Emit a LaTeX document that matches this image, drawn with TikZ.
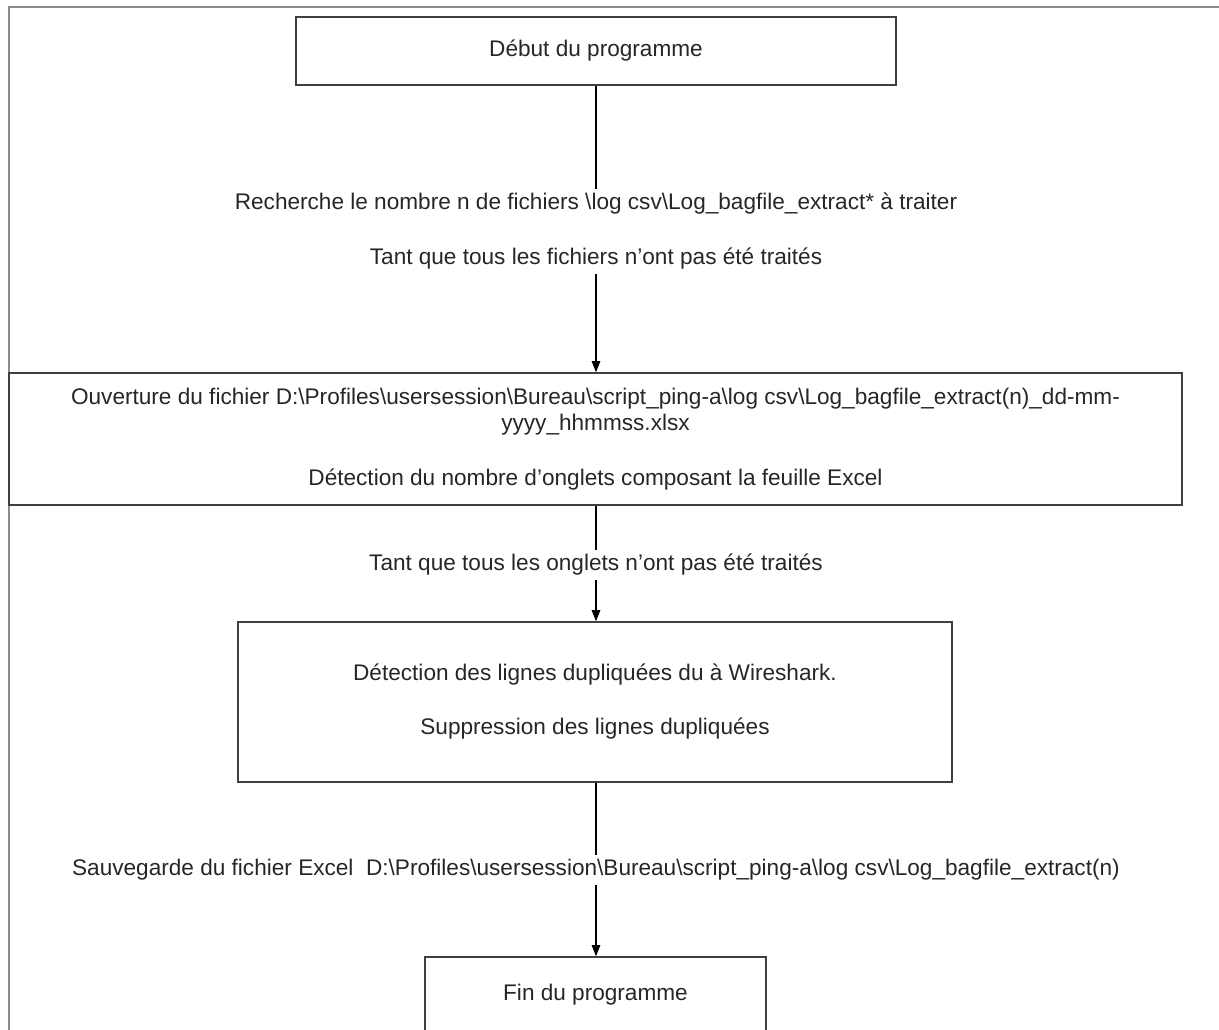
\documentclass[tikz,border=0pt]{standalone}
\usepackage{fontspec}
\setmainfont{Liberation Sans}
\usetikzlibrary{positioning, arrows.meta}
\tikzset{
  fcfig/.style={font=\fontsize{22.6}{26}\selectfont, text=black!85},
  fcbox/.style={draw=black!75, line width=1.6pt, align=center, inner sep=0pt},
  fclabel/.style={align=center, inner xsep=2pt, inner ysep=4pt},
  conn/.style={line width=1.1pt},
  arr/.style={conn, -{Triangle[length=11pt, width=8.5pt]}},
}
\def\PicW{1219}
\def\PicH{1030}
\def\FlowX{596}
\def\Bs{\textbackslash}

\begin{document}
\begin{tikzpicture}[fcfig, x=1pt, y=-1pt]
  % ----- page and frame -----
  \useasboundingbox (0,0) rectangle (\PicW,\PicH);
  \clip (0,0) rectangle (\PicW,\PicH);
  \draw[black!45, line width=1.2pt] (9,7) rectangle (\PicW+20,\PicH+20);

  % ----- boxes -----
  \node[fcbox, minimum width=600pt, minimum height=68pt] (debut) at (\FlowX,51)
    {Début du programme};
  \node[fcbox, minimum width=1173pt, minimum height=132pt] (ouverture) at (595.5,439)
    {Ouverture du fichier D:\Bs Profiles\Bs usersession\Bs Bureau\Bs script\_ping-a\Bs log csv\Bs Log\_bagfile\_extract(n)\_dd-mm-\\
     yyyy\_hhmmss.xlsx\\[29pt]
     Détection du nombre d'onglets composant la feuille Excel};
  \node[fcbox, minimum width=714pt, minimum height=160pt] (doublons) at (595,702)
    {Détection des lignes dupliquées du à Wireshark.\\[28pt]
     Suppression des lignes dupliquées};
  \node[fcbox, minimum width=341pt, minimum height=76pt] (fin) at (595.5,995)
    {Fin du programme};

  % ----- loop / step labels on the flow line -----
  \node[fclabel] (recherche) at (\FlowX,231.5)
    {Recherche le nombre n de fichiers \Bs log csv\Bs Log\_bagfile\_extract* à traiter\\[29pt]
     Tant que tous les fichiers n'ont pas été traités};
  \node[fclabel] (tantonglets) at (\FlowX,565)
    {Tant que tous les onglets n'ont pas été traités};
  \node[fclabel] (sauvegarde) at (\FlowX,870)
    {Sauvegarde du fichier Excel\ \ D:\Bs Profiles\Bs usersession\Bs Bureau\Bs script\_ping-a\Bs log csv\Bs Log\_bagfile\_extract(n)};

  % ----- connectors -----
  \draw[conn] (debut.south) -- (recherche.north);
  \draw[arr] (recherche.south) -- (recherche.south |- ouverture.north);
  \draw[conn] (recherche.south |- ouverture.south) -- (tantonglets.north);
  \draw[arr] (tantonglets.south) -- (doublons.north -| tantonglets.south);
  \draw[conn] (doublons.south -| sauvegarde.north) -- (sauvegarde.north);
  \draw[arr] (sauvegarde.south) -- (fin.north -| sauvegarde.south);
\end{tikzpicture}
\end{document}
